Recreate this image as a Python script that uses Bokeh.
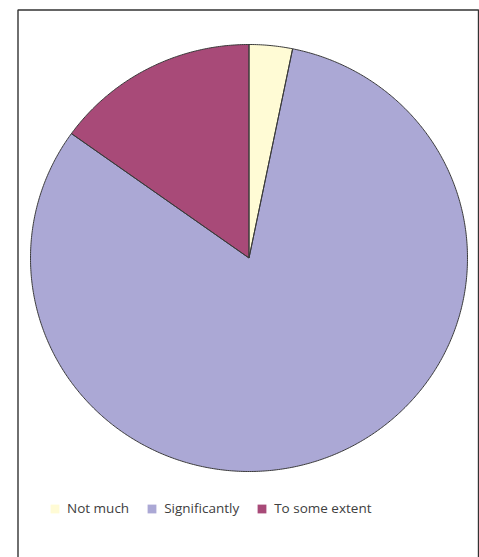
import numpy as np
from bokeh.plotting import figure
from bokeh.models import ColumnDataSource, Legend, LegendItem, BoxAnnotation, Range1d
from bokeh.embed import file_html
from bokeh.resources import INLINE

# ---- data ----
categories = ["Not much", "Significantly", "To some extent"]
values = [3.2, 81.7, 15.1]
colors = ["#FFFBD5", "#ABA8D5", "#A84A78"]

# ---- layout (pixel mapping) ----
W, H = 479, 557
CX, CY = 248.5, 257.5      # pie centre in px
RX, RY = 218.5, 213.5      # px per unit

def px_x(px):
    return (px - CX) / RX

def px_y(py):
    return (CY - py) / RY

p = figure(width=W, height=H, output_backend="svg", toolbar_location=None,
           x_range=Range1d(px_x(0), px_x(W)), y_range=Range1d(px_y(H), px_y(0)),
           min_border=0, min_border_left=0, min_border_right=0,
           min_border_top=0, min_border_bottom=0)
p.axis.visible = False
p.grid.visible = False
p.outline_line_color = None
p.background_fill_color = "white"
p.border_fill_color = "white"

# frame box (no bottom edge visible)
p.add_layout(BoxAnnotation(left=px_x(17.5), right=px_x(478), top=px_y(9.5), bottom=px_y(H + 50),
                           fill_color=None, fill_alpha=0, line_color="#333333",
                           line_alpha=1, line_width=1.4))

# slices: clockwise from 12 o'clock
total = float(sum(values))
ends = np.cumsum(values) / total * 2 * np.pi
starts = np.concatenate([[0.0], ends[:-1]])
xs, ys = [], []
for a0, a1 in zip(starts, ends):
    t = np.linspace(a0, a1, max(3, int((a1 - a0) * 120)))
    xs.append(np.concatenate([[0.0], np.sin(t), [0.0]]).tolist())
    ys.append(np.concatenate([[0.0], np.cos(t), [0.0]]).tolist())

src = ColumnDataSource(dict(xs=xs, ys=ys, color=colors, label=categories))
fill_r = p.patches("xs", "ys", source=src, fill_color="color", line_color=None)
p.patches("xs", "ys", source=src, fill_color=None, line_color="#3a3a3a", line_width=1)

items = [LegendItem(label=c, renderers=[fill_r], index=i) for i, c in enumerate(categories)]
legend = Legend(items=items, orientation="horizontal", location=(49, 40),
                glyph_width=11, glyph_height=11, label_standoff=7, spacing=17,
                label_text_font="Open Sans", label_text_font_size="13.5px",
                label_text_color="#404040", border_line_color=None,
                background_fill_alpha=0, padding=0, margin=0)
legend.item_background_fill_alpha = 0
p.add_layout(legend, "center")

open("out.html", "w").write(file_html(p, INLINE))
